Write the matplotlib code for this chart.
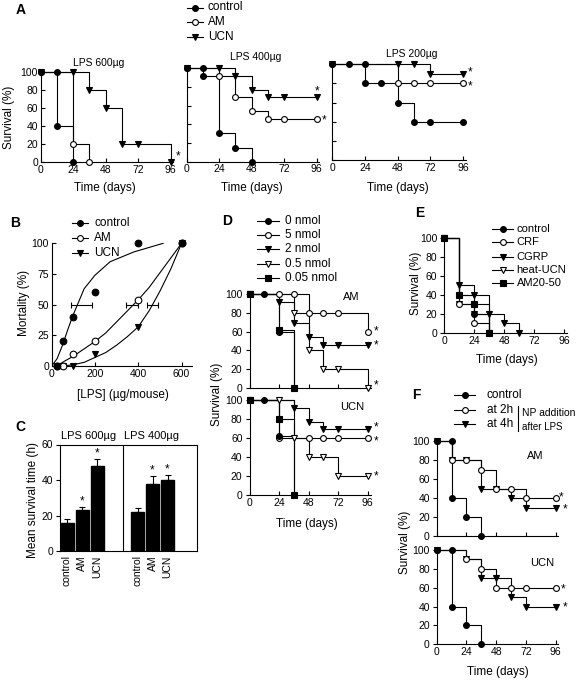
import matplotlib
matplotlib.use('Agg')
import matplotlib.pyplot as plt
from matplotlib.lines import Line2D
import numpy as np

W, H = 577, 680
plt.rcParams['font.family'] = ['Liberation Sans', 'DejaVu Sans']
plt.rcParams['axes.linewidth'] = 0.8

# ---------------- data ----------------
day_ticks = [0, 24, 48, 72, 96]
pct_ticks = [0, 20, 40, 60, 80, 100]

# Panel A : survival (%) vs time (days)
a600_ctrl_t = [0, 12, 12, 24]
a600_ctrl_s = [100, 100, 40, 0]
a600_am_t = [0, 24, 36]
a600_am_s = [100, 20, 0]
a600_ucn_t = [0, 24, 36, 48, 60, 72, 96]
a600_ucn_s = [100, 100, 80, 60, 20, 20, 0]

a400_ctrl_t = [0, 12, 12, 24, 36, 48]
a400_ctrl_s = [100, 100, 92, 31, 15, 0]
a400_am_t = [0, 24, 36, 48, 60, 72, 96]
a400_am_s = [100, 92, 69, 54, 46, 46, 46]
a400_ucn_t = [0, 24, 36, 48, 60, 72, 96]
a400_ucn_s = [100, 100, 92, 77, 69, 69, 69]

a200_ctrl_t = [0, 12, 24, 24, 36, 48, 60, 72, 96]
a200_ctrl_s = [100, 100, 100, 80, 80, 60, 40, 40, 40]
a200_am_t = [0, 48, 60, 72, 96]
a200_am_s = [100, 80, 80, 80, 80]
a200_ucn_t = [0, 48, 60, 72, 96]
a200_ucn_s = [100, 100, 100, 90, 90]

# Panel B : mortality vs LPS dose
b_lps = [25, 50, 100, 200, 400, 600]
b_ctrl = [0, 20, 40, 60, 100, 100]
b_am = [0, 0, 10, 20, 54, 100]
b_ucn = [0, 0, 0, 10, 32, 100]
b_ctrl_fit_x = [0, 25, 50, 75, 100, 150, 200, 270, 380, 515]
b_ctrl_fit_y = [0, 6, 17, 30, 42, 63, 74, 85, 93, 100]
b_am_fit_x = [25, 50, 100, 150, 200, 250, 300, 350, 400, 450, 500, 550, 600]
b_am_fit_y = [0, 3, 8, 14, 20, 27, 36, 45, 54, 64, 76, 88, 100]
b_ucn_fit_x = [50, 100, 150, 200, 250, 300, 350, 400, 450, 500, 550, 600]
b_ucn_fit_y = [0, 1, 3, 7, 11, 17, 24, 32, 45, 61, 79, 100]
b_ld50 = [135, 372, 463]
b_ld50_lo = [88, 343, 438]
b_ld50_hi = [185, 400, 489]

# Panel C : mean survival time (h)
c_groups = ['LPS 600\u00b5g', 'LPS 400\u00b5g']
c_labels = ['control', 'AM', 'UCN']
c_600 = [16, 23, 48]
c_600_err = [2, 2, 4]
c_400 = [22, 38, 40]
c_400_err = [2, 4, 3]
c_sig_600 = [False, True, True]
c_sig_400 = [False, True, True]

# Panel D : dose of NP
d_labels = ['0 nmol', '5 nmol', '2 nmol', '0.5 nmol', '0.05 nmol']
dam_0_t = [0, 12, 24, 36];             dam_0_s = [100, 100, 60, 0]
dam_5_t = [0, 24, 36, 48, 60, 72, 96]; dam_5_s = [100, 100, 100, 80, 80, 80, 60]
dam_2_t = [0, 24, 36, 48, 60, 72, 96]; dam_2_s = [100, 92, 69, 54, 46, 46, 46]
dam_05_t = [0, 36, 48, 60, 72, 96];    dam_05_s = [100, 80, 40, 20, 20, 0]
dam_005_t = [0, 24, 36];               dam_005_s = [100, 62, 0]
ducn_0_t = [0, 12, 24, 36];            ducn_0_s = [100, 100, 62, 0]
ducn_5_t = [0, 24, 48, 60, 72, 96];    ducn_5_s = [100, 60, 60, 60, 60, 60]
ducn_2_t = [0, 36, 48, 60, 72, 96];    ducn_2_s = [100, 92, 77, 69, 69, 69]
ducn_05_t = [0, 24, 36, 48, 60, 72, 96]; ducn_05_s = [100, 100, 60, 40, 40, 20, 20]
ducn_005_t = [0, 24, 36];              ducn_005_s = [100, 80, 0]

# Panel E : other peptides
e_labels = ['control', 'CRF', 'CGRP', 'heat-UCN', 'AM20-50']
e_ctrl_t = [0, 12, 24, 36];             e_ctrl_s = [100, 40, 20, 0]
e_crf_t = [0, 12, 24, 36];              e_crf_s = [100, 30, 10, 0]
e_cgrp_t = [0, 12, 24, 36, 48, 60];     e_cgrp_s = [100, 50, 40, 20, 10, 0]
e_heat_t = [0, 12, 24, 36];             e_heat_s = [100, 30, 20, 0]
e_am2050_t = [0, 12, 24, 36];           e_am2050_s = [100, 40, 30, 0]

# Panel F : delayed addition
f_labels = ['control', 'at 2h', 'at 4h']
fam_ctrl_t = [0, 12, 12, 24, 36];               fam_ctrl_s = [100, 100, 40, 20, 0]
fam_2h_t = [0, 12, 24, 36, 48, 60, 72, 96];     fam_2h_s = [100, 80, 80, 70, 50, 50, 40, 40]
fam_4h_t = [0, 12, 24, 36, 48, 60, 72, 96];     fam_4h_s = [100, 80, 80, 50, 50, 40, 30, 30]
fucn_ctrl_t = [0, 12, 12, 24, 36];              fucn_ctrl_s = [100, 100, 40, 20, 0]
fucn_2h_t = [0, 24, 36, 48, 60, 72, 96];        fucn_2h_s = [100, 90, 80, 60, 60, 60, 60]
fucn_4h_t = [0, 24, 36, 48, 60, 72, 96];        fucn_4h_s = [100, 90, 70, 70, 50, 40, 40]

# ---------------- styles ----------------
LW = 0.8
MS = 4.2
TS = 7.5     # tick labels
LS = 8.5     # axis labels
STAR = 8.5
FC = dict(marker='o', mfc='k')
OC = dict(marker='o', mfc='w')
FT = dict(marker='v', mfc='k')
OT = dict(marker='v', mfc='w')
FS = dict(marker='s', mfc='k')

fig = plt.figure(figsize=(W / 100, H / 100), dpi=100)


def fx(x):
    return x / W


def fy(y):
    return 1 - y / H


def ax_px(left, right, top, bottom):
    return fig.add_axes([fx(left), fy(bottom), (right - left) / W, (bottom - top) / H])


def ftext(x, y, s, **kw):
    fig.text(fx(x), fy(y), s, **kw)


def fig_legend(x0, x1, xt, ys, labels, styles, fs=8.5):
    for y, lab, st in zip(ys, labels, styles):
        fig.add_artist(Line2D([fx(x0), fx(x1)], [fy(y), fy(y)], color='k', lw=LW))
        fig.add_artist(Line2D([fx((x0 + x1) / 2)], [fy(y)], ls='none', marker=st['marker'],
                              mfc=st['mfc'], mec='k', ms=MS, mew=0.8))
        ftext(xt, y, lab, fontsize=fs, va='center', ha='left')


def style_ax(ax, xlim, ylim, xticks, yticks, xlab=True, ylab=True, ydir='in', xdir='in'):
    for sp in ['top', 'right']:
        ax.spines[sp].set_visible(False)
    ax.set_xlim(xlim)
    ax.set_ylim(ylim)
    ax.set_xticks(xticks)
    ax.set_yticks(yticks)
    ax.tick_params(axis='x', direction=xdir, length=3, width=0.8, labelsize=TS, pad=2,
                   labelbottom=xlab)
    ax.tick_params(axis='y', direction=ydir, length=3, width=0.8, labelsize=TS, pad=2,
                   labelleft=ylab)
    ax.patch.set_alpha(0)


def survival(ax, series):
    for t, s, st, star in series:
        ax.step(t, s, where='post', color='k', lw=LW, clip_on=False, zorder=2)
        ax.plot(t, s, ls='none', marker=st['marker'], mfc=st['mfc'], mec='k', ms=MS,
                mew=0.8, clip_on=False, zorder=3)
        if star is not None:
            ax.annotate('*', (t[-1], s[-1]), xytext=star, textcoords='offset points',
                        ha='center', va='center', fontsize=STAR, annotation_clip=False)


# ---------------- Panel A ----------------
ftext(20.7, 10, 'A', fontsize=10, fontweight='bold', va='center', ha='center')
fig_legend(186.7, 203.3, 208, [7.5, 22.3, 36.7], ['control', 'AM', 'UCN'], [FC, OC, FT])

axA1 = ax_px(40.7, 40.7 + 98 * 130 / 96, 71.7, 162.3)
style_ax(axA1, (0, 98), (0, 100), day_ticks, pct_ticks)
survival(axA1, [(a600_am_t, a600_am_s, OC, None),
                (a600_ucn_t, a600_ucn_s, FT, (5, 4)),
                (a600_ctrl_t, a600_ctrl_s, FC, None)])
axA2 = ax_px(186.7, 186.7 + 98 * 130 / 96, 68.3, 161.7)
style_ax(axA2, (0, 98), (0, 100), day_ticks, pct_ticks, ylab=False)
survival(axA2, [(a400_am_t, a400_am_s, OC, (5, -1.5)),
                (a400_ucn_t, a400_ucn_s, FT, (0.5, 4.5)),
                (a400_ctrl_t, a400_ctrl_s, FC, None)])
axA3 = ax_px(332.2, 332.2 + 98 * 131 / 96, 64.3, 160)
style_ax(axA3, (0, 98), (0, 100), day_ticks, pct_ticks, ylab=False)
survival(axA3, [(a200_am_t, a200_am_s, OC, (5, -2.5)),
                (a200_ucn_t, a200_ucn_s, FT, (5, 1)),
                (a200_ctrl_t, a200_ctrl_s, FC, None)])
ftext(99, 63, 'LPS 600\u00b5g', fontsize=7.5, ha='center', va='center')
ftext(256, 57, 'LPS 400\u00b5g', fontsize=7.5, ha='center', va='center')
ftext(412, 54, 'LPS 200\u00b5g', fontsize=7.5, ha='center', va='center')
for xc in [105, 252, 398]:
    ftext(xc, 188, 'Time (days)', fontsize=LS, ha='center', va='center')
ftext(9.5, 117, 'Survival (%)', fontsize=LS, ha='center', va='center', rotation=90)

# ---------------- Panel B ----------------
ftext(15, 223, 'B', fontsize=10, fontweight='bold', va='center', ha='center')
fig_legend(71.7, 88.3, 94.3, [223.3, 238.3, 253.3], ['control', 'AM', 'UCN'], [FC, OC, FT])
axB = ax_px(51.7, 51.7 + 650 * 43.3 / 200, 243.3, 366)
style_ax(axB, (0, 650), (0, 100), [0, 200, 400, 600], [0, 25, 50, 75, 100])
axB.plot(b_ctrl_fit_x, b_ctrl_fit_y, color='k', lw=LW)
axB.plot(b_am_fit_x, b_am_fit_y, color='k', lw=LW)
axB.plot(b_ucn_fit_x, b_ucn_fit_y, color='k', lw=LW)
for y, st in [(b_ucn, FT), (b_am, OC), (b_ctrl, FC)]:
    axB.plot(b_lps, y, ls='none', marker=st['marker'], mfc=st['mfc'], mec='k', ms=MS + 0.6,
             mew=0.8, clip_on=False, zorder=3)
b_c = np.array(b_ld50)
axB.errorbar(b_c, [50] * len(b_c),
             xerr=[b_c - np.array(b_ld50_lo), np.array(b_ld50_hi) - b_c],
             fmt='none', ecolor='k', elinewidth=LW, capsize=2.5, capthick=LW)
ftext(122.5, 395, '[LPS] (\u00b5g/mouse)', fontsize=LS, ha='center', va='center')
ftext(24, 303, 'Mortality (%)', fontsize=LS, ha='center', va='center', rotation=90)

# ---------------- Panel C ----------------
ftext(20.7, 427.3, 'C', fontsize=10, fontweight='bold', va='center', ha='center')
unit = 15.0
axC = ax_px(60, 197, 444.5, 551)
xl = (-7 / unit, 130 / unit)
pos = np.array([0, 1, 2, 70.5 / unit, 70.5 / unit + 1, 70.5 / unit + 2])
vals = c_600 + c_400
errs = c_600_err + c_400_err
sigs = c_sig_600 + c_sig_400
axC.bar(pos, vals, width=13 / unit, color='k', edgecolor='k')
axC.errorbar(pos, vals, yerr=[[0] * len(vals), errs], fmt='none', ecolor='k',
             elinewidth=LW, capsize=2.5, capthick=LW)
for p, v, e, s in zip(pos, vals, errs, sigs):
    if s:
        axC.annotate('*', (p, v + e), xytext=(0, 4), textcoords='offset points',
                     ha='center', va='center', fontsize=STAR)
axC.set_xlim(xl)
axC.set_ylim(0, 60)
axC.axvline(56.3 / unit, color='k', lw=LW)
axC.set_xticks(pos)
axC.set_xticklabels(c_labels * 2, rotation=90, fontsize=TS)
axC.set_yticks([0, 20, 40, 60])
axC.tick_params(axis='x', length=0, pad=3)
axC.tick_params(axis='y', direction='out', length=3, width=0.8, labelsize=TS, pad=2)
ftext(89, 436, c_groups[0], fontsize=8, ha='center', va='center')
ftext(152, 436, c_groups[1], fontsize=8, ha='center', va='center')
ftext(33.3, 500, 'Mean survival time (h)', fontsize=LS, ha='center', va='center', rotation=90)

# ---------------- Panel D ----------------
ftext(226.7, 220.7, 'D', fontsize=10, fontweight='bold', va='center', ha='center')
fig_legend(257.3, 279, 285, [220.7, 235, 249.3, 264, 278.3], d_labels, [FC, OC, FT, OT, FS])
dsx = 118 / 96
axD1 = ax_px(249.5, 249.5 + 99 * dsx, 294, 388)
style_ax(axD1, (0, 99), (0, 100), day_ticks, pct_ticks, xlab=False, ydir='out')
survival(axD1, [(dam_05_t, dam_05_s, OT, (6, 1.5)),
                (dam_2_t, dam_2_s, FT, (6, -0.5)),
                (dam_5_t, dam_5_s, OC, (6, 0)),
                (dam_005_t, dam_005_s, FS, None),
                (dam_0_t, dam_0_s, FC, None)])
axD2 = ax_px(249.5, 249.5 + 99 * dsx, 400, 495)
style_ax(axD2, (0, 99), (0, 100), day_ticks, pct_ticks, ydir='out')
survival(axD2, [(ducn_05_t, ducn_05_s, OT, (6, -0.5)),
                (ducn_2_t, ducn_2_s, FT, (6, 1.8)),
                (ducn_5_t, ducn_5_s, OC, (6, -2.5)),
                (ducn_005_t, ducn_005_s, FS, None),
                (ducn_0_t, ducn_0_s, FC, None)])
ftext(351.7, 297, 'AM', fontsize=8, ha='center', va='center')
ftext(351.7, 407.3, 'UCN', fontsize=8, ha='center', va='center')
ftext(307.3, 524, 'Time (days)', fontsize=LS, ha='center', va='center')
ftext(216.7, 394, 'Survival (%)', fontsize=LS, ha='center', va='center', rotation=90)

# ---------------- Panel E ----------------
ftext(419.3, 213.3, 'E', fontsize=10, fontweight='bold', va='center', ha='center')
fig_legend(491.7, 513.3, 516.7, [229, 242.3, 256.7, 270, 283.3], e_labels, [FC, OC, FT, OT, FS], fs=8)
axE = ax_px(444.3, 444.3 + 98 * 1.25, 237.7, 333)
style_ax(axE, (0, 98), (0, 100), day_ticks, pct_ticks, ydir='out')
survival(axE, [(e_heat_t, e_heat_s, OT, None),
               (e_crf_t, e_crf_s, OC, None),
               (e_am2050_t, e_am2050_s, FS, None),
               (e_cgrp_t, e_cgrp_s, FT, None),
               (e_ctrl_t, e_ctrl_s, FC, None)])
ftext(506.7, 360, 'Time (days)', fontsize=LS, ha='center', va='center')
ftext(416, 283, 'Survival (%)', fontsize=LS, ha='center', va='center', rotation=90)

# ---------------- Panel F ----------------
ftext(416.7, 395, 'F', fontsize=10, fontweight='bold', va='center', ha='center')
fig_legend(454.3, 475, 486.7, [395, 410, 424], f_labels, [FC, OC, FT])
fig.add_artist(Line2D([fx(518.3), fx(518.3)], [fy(406), fy(431)], color='k', lw=LW))
ftext(521.7, 413, 'NP addition', fontsize=7.5, ha='left', va='center')
ftext(521.7, 426.7, 'after LPS', fontsize=7, ha='left', va='center')
fsx = 119 / 96
axF1 = ax_px(436.7, 436.7 + 98 * fsx, 441, 536)
style_ax(axF1, (0, 98), (0, 100), day_ticks, pct_ticks, xlab=False, ydir='out')
survival(axF1, [(fam_4h_t, fam_4h_s, FT, (6.5, -1.5)),
                (fam_2h_t, fam_2h_s, OC, (4, 0.5)),
                (fam_ctrl_t, fam_ctrl_s, FC, None)])
axF2 = ax_px(436.7, 436.7 + 98 * fsx, 550, 644.3)
style_ax(axF2, (0, 98), (0, 100), day_ticks, pct_ticks, ydir='out')
survival(axF2, [(fucn_4h_t, fucn_4h_s, FT, (6.5, -0.5)),
                (fucn_2h_t, fucn_2h_s, OC, (5, -1.5)),
                (fucn_ctrl_t, fucn_ctrl_s, FC, None)])
ftext(535, 456, 'AM', fontsize=8, ha='center', va='center')
ftext(541.7, 562.7, 'UCN', fontsize=8, ha='center', va='center')
ftext(498.3, 671.7, 'Time (days)', fontsize=LS, ha='center', va='center')
ftext(405, 542, 'Survival (%)', fontsize=LS, ha='center', va='center', rotation=90)

fig.savefig('out.png', dpi=100)
